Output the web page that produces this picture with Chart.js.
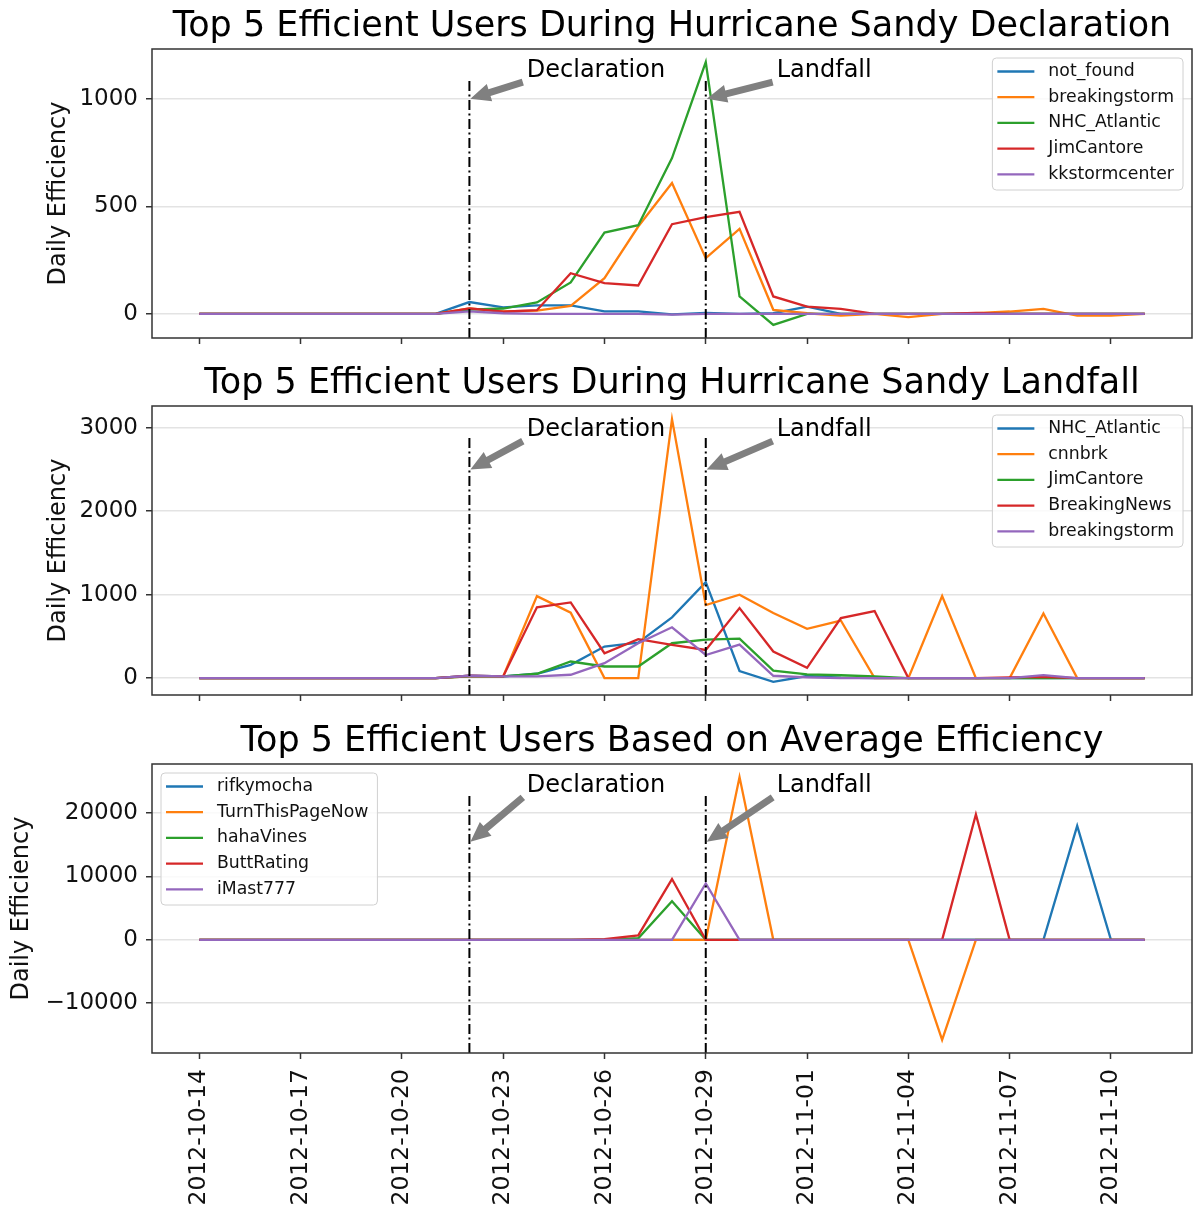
<!DOCTYPE html>
<html>
<head>
<meta charset="utf-8">
<script src="https://cdn.jsdelivr.net/npm/chart.js@4.4.1/dist/chart.umd.min.js"></script>
<style>
  body { margin: 0; background: #fff; }
  #wrap { position: relative; width: 1195px; height: 1211px; }
  #wrap canvas { position: absolute; left: 0; }
</style>
</head>
<body>
<div id="wrap">
  <canvas id="c1" width="1195" height="358" style="top:0px"></canvas>
  <canvas id="c2" width="1195" height="358" style="top:357px"></canvas>
  <canvas id="c3" width="1195" height="496" style="top:715px"></canvas>
</div>
<script>
// one value per day, 2012-10-14 .. 2012-11-11
const dates = [
  '2012-10-14', '2012-10-15', '2012-10-16', '2012-10-17', '2012-10-18', '2012-10-19',
  '2012-10-20', '2012-10-21', '2012-10-22', '2012-10-23', '2012-10-24', '2012-10-25',
  '2012-10-26', '2012-10-27', '2012-10-28', '2012-10-29', '2012-10-30', '2012-10-31',
  '2012-11-01', '2012-11-02', '2012-11-03', '2012-11-04', '2012-11-05', '2012-11-06',
  '2012-11-07', '2012-11-08', '2012-11-09', '2012-11-10', '2012-11-11'
];
const xTickIdx = [0, 3, 6, 9, 12, 15, 18, 21, 24, 27];

// event markers (index into dates)
const eventDays = [8, 15];
const eventLabels = ['Declaration', 'Landfall'];
const eventTextShift = [1.7, 2.1];

const colors = ['#1f77b4', '#ff7f0e', '#2ca02c', '#d62728', '#9467bd'];

// --- panel 1: declaration ---
const declTitle = 'Top 5 Efficient Users During Hurricane Sandy Declaration';
const declUsers = ['not_found', 'breakingstorm', 'NHC_Atlantic', 'JimCantore', 'kkstormcenter'];
const declNotFound      = [0,0,0,0,0,0,0,0, 55,30,40,40,12,12,-2,5,0,3,34,0, 0,0,0,0,0,0,0,0,0];
const declBreakingstorm = [0,0,0,0,0,0,0,0, 25,12,15,37,166,406,608,259,395,19,3,-8, 0,-15,0,3,11,23,-8,-8,0];
const declNHC           = [0,0,0,0,0,0,0,0, 20,25,53,146,378,412,724,1170,81,-51,0,0, 0,0,0,0,0,0,0,0,0];
const declJimCantore    = [0,0,0,0,0,0,0,0, 26,10,17,189,143,132,417,450,474,81,34,23, 0,0,0,5,0,0,0,0,0];
const declKkstorm       = [0,0,0,0,0,0,0,0, 12,3,0,0,0,0,-3,0,0,0,0,0, 0,0,0,0,0,0,0,0,0];
const declTicks = [0, 500, 1000];

// --- panel 2: landfall ---
const landTitle = 'Top 5 Efficient Users During Hurricane Sandy Landfall';
const landUsers = ['NHC_Atlantic', 'cnnbrk', 'JimCantore', 'BreakingNews', 'breakingstorm'];
const landNHC           = [0,0,0,0,0,0,0,0, 28,20,52,159,378,426,728,1150,85,-45,25,5, 0,0,0,0,0,0,0,0,0];
const landCnnbrk        = [0,0,0,0,0,0,0,0, 20,20,983,784,0,0,3104,875,1000,780,590,690, 0,0,983,0,0,776,0,0,0];
const landJimCantore    = [0,0,0,0,0,0,0,0, 20,20,52,199,139,139,418,462,474,90,44,34, 20,0,0,0,0,0,0,0,0];
const landBreakingNews  = [0,0,0,0,0,0,0,0, 28,20,848,907,298,466,398,338,840,318,123,720, 804,0,0,0,10,15,0,0,0];
const landBreakingstorm = [0,0,0,0,0,0,0,0, 28,20,20,40,179,418,609,277,402,28,10,0, 0,0,0,0,0,36,0,0,0];
const landTicks = [0, 1000, 2000, 3000];

// --- panel 3: average efficiency ---
const avgTitle = 'Top 5 Efficient Users Based on Average Efficiency';
const avgUsers = ['rifkymocha', 'TurnThisPageNow', 'hahaVines', 'ButtRating', 'iMast777'];
const avgRifkymocha = [0,0,0,0,0,0,0,0,0,0,0,0,0,0,0,0,0,0,0,0,0,0,0,0,0,0,18000,0,0];
const avgTurnThis   = [0,0,0,0,0,0,0,0,0,0,0,0,0,0,0,0,25700,0,0,0,0,0,-15800,0,0,0,0,0,0];
const avgHahaVines  = [0,0,0,0,0,0,0,0,0,0,0,0,0,250,6100,0,0,0,0,0,0,0,0,0,0,0,0,0,0];
const avgButtRating = [0,0,0,0,0,0,0,0,0,0,0,0,100,700,9600,0,0,0,0,0,0,0,0,19800,0,0,0,0,0];
const avgIMast      = [0,0,0,0,0,0,0,0,0,0,0,0,0,0,0,8900,0,0,0,0,0,0,0,0,0,0,0,0,0];
const avgTicks = [-10000, 0, 10000, 20000];

const FONT = '"DejaVu Sans", "Liberation Sans", sans-serif';
Chart.defaults.font.family = FONT;

const panels = [
  { id: 'c1', title: declTitle, users: declUsers, height: 358,
    series: [declNotFound, declBreakingstorm, declNHC, declJimCantore, declKkstorm],
    yTicks: declTicks, arrowTip: 1000, textAt: 1100, legendSide: 'right', yTitlePad: 44, showDates: false },
  { id: 'c2', title: landTitle, users: landUsers, height: 358,
    series: [landNHC, landCnnbrk, landJimCantore, landBreakingNews, landBreakingstorm],
    yTicks: landTicks, arrowTip: 2500, textAt: 2900, legendSide: 'right', yTitlePad: 44, showDates: false },
  { id: 'c3', title: avgTitle, users: avgUsers, height: 496,
    series: [avgRifkymocha, avgTurnThis, avgHahaVines, avgButtRating, avgIMast],
    yTicks: avgTicks, arrowTip: 15500, textAt: 23300, legendSide: 'left', yTitlePad: 7, showDates: true }
];

function drawArrow(ctx, x0, y0, x1, y1) {
  const len = Math.hypot(x1 - x0, y1 - y0);
  const ux = (x1 - x0) / len, uy = (y1 - y0) / len;
  const nx = -uy, ny = ux;
  const hl = 20, hw = 9, sw = 3.5;
  const bx = x1 - ux * hl, by = y1 - uy * hl;
  ctx.beginPath();
  ctx.moveTo(x0 + nx * sw, y0 + ny * sw);
  ctx.lineTo(bx + nx * sw, by + ny * sw);
  ctx.lineTo(bx + nx * hw, by + ny * hw);
  ctx.lineTo(x1, y1);
  ctx.lineTo(bx - nx * hw, by - ny * hw);
  ctx.lineTo(bx - nx * sw, by - ny * sw);
  ctx.lineTo(x0 - nx * sw, y0 - ny * sw);
  ctx.closePath();
  ctx.fillStyle = '#808080';
  ctx.fill();
}

// event lines, arrows, frame and legend drawn over the data
function decor(p) {
  return {
    id: 'decor',
    afterDatasetsDraw(chart) {
      const { ctx, chartArea: a, scales: { x, y } } = chart;
      ctx.save();

      ctx.strokeStyle = '#000';
      ctx.lineWidth = 2;
      ctx.setLineDash([10, 3.5, 2, 3.5]);
      eventDays.forEach(d => {
        const px = x.getPixelForValue(d);
        ctx.beginPath();
        ctx.moveTo(px, a.bottom);
        ctx.lineTo(px, a.bottom - 0.9 * (a.bottom - a.top));
        ctx.stroke();
      });
      ctx.setLineDash([]);

      ctx.font = '24px ' + FONT;
      ctx.textBaseline = 'alphabetic';
      ctx.textAlign = 'left';
      eventDays.forEach((d, i) => {
        const tx = x.getPixelForValue(d + eventTextShift[i]);
        const ty = y.getPixelForValue(p.textAt);
        drawArrow(ctx, tx - 4, ty + 5, x.getPixelForValue(d) + 1, y.getPixelForValue(p.arrowTip));
        ctx.fillStyle = '#000';
        ctx.fillText(eventLabels[i], tx, ty);
      });

      ctx.strokeStyle = '#333';
      ctx.lineWidth = 1.5;
      ctx.strokeRect(a.left, a.top, a.right - a.left, a.bottom - a.top);

      // legend
      ctx.font = '17.3px ' + FONT;
      const names = chart.data.datasets.map(ds => ds.label);
      const tw = Math.max(...names.map(n => ctx.measureText(n).width));
      const w = 56 + tw + 9, h = 132;
      const lx = p.legendSide === 'right' ? a.right - 9 - w : a.left + 9;
      const ly = a.top + 9;
      ctx.beginPath();
      ctx.roundRect(lx, ly, w, h, 4);
      ctx.fillStyle = 'rgba(255,255,255,0.8)';
      ctx.fill();
      ctx.strokeStyle = '#d0d0d0';
      ctx.lineWidth = 1;
      ctx.stroke();
      ctx.textBaseline = 'middle';
      chart.data.datasets.forEach((ds, i) => {
        const cy = ly + 13.5 + i * 25.7;
        ctx.strokeStyle = ds.borderColor;
        ctx.lineWidth = 2.3;
        ctx.beginPath();
        ctx.moveTo(lx + 5, cy);
        ctx.lineTo(lx + 42, cy);
        ctx.stroke();
        ctx.fillStyle = '#111';
        ctx.fillText(ds.label, lx + 56, cy);
      });
      ctx.restore();
    }
  };
}

function yLimits(series) {
  const all = series.flat();
  const lo = Math.min(...all), hi = Math.max(...all);
  const m = (hi - lo) * 0.05;
  return [lo - m, hi + m];
}

panels.forEach(p => {
  const [ymin, ymax] = yLimits(p.series);
  new Chart(document.getElementById(p.id), {
    type: 'line',
    data: {
      datasets: p.series.map((vals, i) => ({
        label: p.users[i],
        data: vals.map((v, k) => ({ x: k, y: v })),
        borderColor: colors[i],
        backgroundColor: colors[i],
        borderWidth: 2.3,
        pointRadius: 0,
        tension: 0,
        order: 5 - i
      }))
    },
    options: {
      responsive: false,
      animation: false,
      events: [],
      layout: { padding: { left: 0, right: 3, top: 0, bottom: 0 } },
      plugins: {
        legend: { display: false },
        tooltip: { enabled: false },
        title: {
          display: true,
          text: p.title,
          fullSize: false,
          color: '#000',
          font: { size: 35, weight: 'normal' },
          padding: { top: 6, bottom: 1 }
        }
      },
      scales: {
        x: {
          type: 'linear',
          min: -1.4,
          max: 29.4,
          afterBuildTicks: s => { s.ticks = xTickIdx.map(v => ({ value: v })); },
          afterFit: s => {
            s.height = p.height - 338;
            s.paddingLeft = 0;
            s.paddingRight = 0;
          },
          grid: { drawOnChartArea: false, tickLength: 6, tickColor: '#333', tickWidth: 1.5 },
          border: { display: false },
          ticks: {
            display: p.showDates,
            autoSkip: false,
            minRotation: 90,
            maxRotation: 90,
            padding: 10,
            color: '#111',
            font: { size: 23.5 },
            callback: v => dates[v]
          }
        },
        y: {
          min: ymin,
          max: ymax,
          afterBuildTicks: s => { s.ticks = p.yTicks.map(v => ({ value: v })); },
          afterFit: s => {
            // fixed axis box so all three plot areas line up
            s.width = 152;
            s.paddingTop = 0;
            s.paddingBottom = 0;
          },
          grid: { color: '#e3e3e3', lineWidth: 1.5, tickLength: 6, tickColor: '#333', tickWidth: 1.5 },
          border: { display: false },
          ticks: {
            padding: 8,
            color: '#111',
            font: { size: 23 },
            callback: v => String(v).replace('-', '\u2212')
          },
          title: {
            display: true,
            text: 'Daily Efficiency',
            color: '#111',
            font: { size: 24 },
            padding: { top: p.yTitlePad, bottom: 0 }
          }
        }
      }
    },
    plugins: [decor(p)]
  });
});
</script>
</body>
</html>
